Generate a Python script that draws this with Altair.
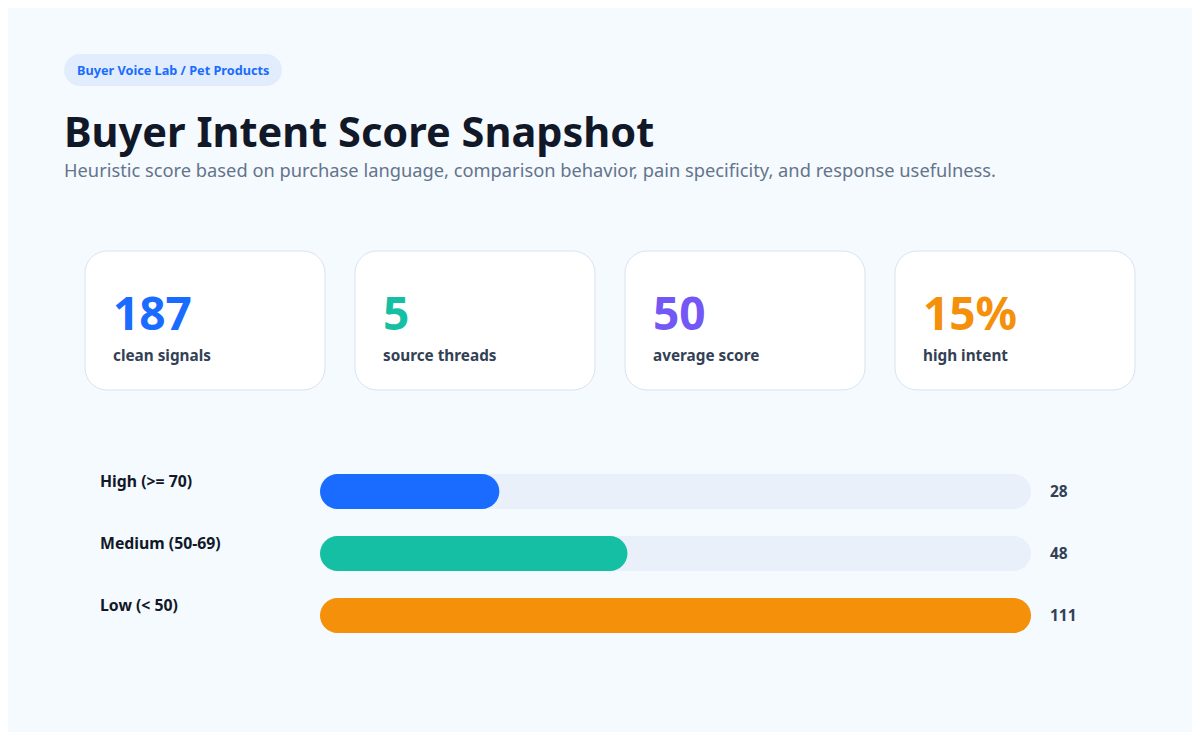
import altair as alt
import pandas as pd

# ---- data ----
badge_text = "Buyer Voice Lab / Pet Products"
title_text = "Buyer Intent Score Snapshot"
subtitle_text = "Heuristic score based on purchase language, comparison behavior, pain specificity, and response usefulness."

kpi_values = ["187", "5", "50", "15%"]
kpi_labels = ["clean signals", "source threads", "average score", "high intent"]
kpi_colors = ["#1a6bff", "#14bfa3", "#7358f5", "#f5900b"]

categories = ["High (>= 70)", "Medium (50-69)", "Low (< 50)"]
counts = [28, 48, 111]
bar_colors = ["#1a6bff", "#14bfa3", "#f5900b"]

FONT = "Noto Sans"
BG = "#f5faff"

kpi_df = pd.DataFrame({"value": kpi_values, "label": kpi_labels, "color": kpi_colors})
bar_df = pd.DataFrame({"category": categories, "count": counts, "color": bar_colors})
vmax = max(counts)


def single(text):
    return alt.Chart(pd.DataFrame({"t": [text]}))


# badge
badge_bg = single(badge_text).mark_rect(color="#e1edfd", cornerRadius=16).encode(
    x=alt.value(56), x2=alt.value(274), y=alt.value(46), y2=alt.value(78)
)
badge_txt = single(badge_text).mark_text(
    font=FONT, fontSize=12.7, fontWeight="bold", color="#1a6bff", align="left", baseline="middle"
).encode(x=alt.value(69), y=alt.value(63), text="t:N")

title = single(title_text).mark_text(
    font=FONT, fontSize=41.5, fontWeight="bold", color="#111827", align="left", baseline="alphabetic"
).encode(x=alt.value(56), y=alt.value(139), text="t:N")

subtitle = single(subtitle_text).mark_text(
    font=FONT, fontSize=18.3, color="#64748b", align="left", baseline="alphabetic"
).encode(x=alt.value(56), y=alt.value(169), text="t:N")

# KPI cards
kpi_base = alt.Chart(kpi_df).transform_window(idx="row_number()").transform_calculate(
    cx="77 + (datum.idx - 1) * 270", cx2="77 + (datum.idx - 1) * 270 + 240", tx="77 + (datum.idx - 1) * 270 + 28"
)
cards = kpi_base.mark_rect(fill="white", stroke="#d8e2f0", strokeWidth=1, cornerRadius=22).encode(
    x=alt.X("cx:Q", scale=None, axis=None), x2="cx2:Q", y=alt.value(243), y2=alt.value(382)
)
kpi_nums = kpi_base.mark_text(
    font=FONT, fontSize=46, fontWeight="bold", align="left", baseline="alphabetic"
).encode(
    x=alt.X("tx:Q", scale=None, axis=None), y=alt.value(322), text="value:N",
    color=alt.Color("color:N", scale=None, legend=None),
)
kpi_labs = kpi_base.mark_text(
    font=FONT, fontSize=15.3, fontWeight="bold", color="#334155", align="left", baseline="alphabetic"
).encode(x=alt.X("tx:Q", scale=None, axis=None), y=alt.value(353), text="label:N")

# bars
xscale = alt.Scale(domain=[0, vmax], range=[312, 1023])
bar_base = alt.Chart(bar_df).transform_window(idx="row_number()").transform_calculate(
    yc="483.5 + (datum.idx - 1) * 62",
    y1="483.5 + (datum.idx - 1) * 62 - 17.5",
    y2="483.5 + (datum.idx - 1) * 62 + 17.5",
    ly="483.5 + (datum.idx - 1) * 62 - 10",
    full=str(vmax),
)
track = bar_base.mark_rect(color="#e9f0fa", cornerRadius=17.5).encode(
    x=alt.X("full:Q", scale=xscale, axis=None), x2=alt.datum(0),
    y=alt.Y("y1:Q", scale=None, axis=None), y2="y2:Q",
)
bars = bar_base.mark_rect(cornerRadius=17.5).encode(
    x=alt.X("count:Q", scale=xscale, axis=None), x2=alt.datum(0),
    y=alt.Y("y1:Q", scale=None, axis=None), y2="y2:Q",
    color=alt.Color("color:N", scale=None, legend=None),
)
cat_labels = bar_base.mark_text(
    font=FONT, fontSize=15.8, fontWeight="bold", color="#111827", align="left", baseline="middle"
).encode(x=alt.value(92), y=alt.Y("ly:Q", scale=None, axis=None), text="category:N")
val_labels = bar_base.mark_text(
    font=FONT, fontSize=15.5, fontWeight="bold", color="#334155", align="left", baseline="middle"
).encode(x=alt.value(1042), y=alt.Y("yc:Q", scale=None, axis=None), text="count:Q")

chart = alt.layer(
    badge_bg, badge_txt, title, subtitle, cards, kpi_nums, kpi_labs, track, bars, cat_labels, val_labels
).resolve_scale(x="independent", y="independent", color="independent").properties(
    width=1184, height=724, background=BG, padding=0, autosize="none"
).configure_view(stroke=None)

chart.save("out.html", embed_options={"renderer": "svg", "actions": False})
